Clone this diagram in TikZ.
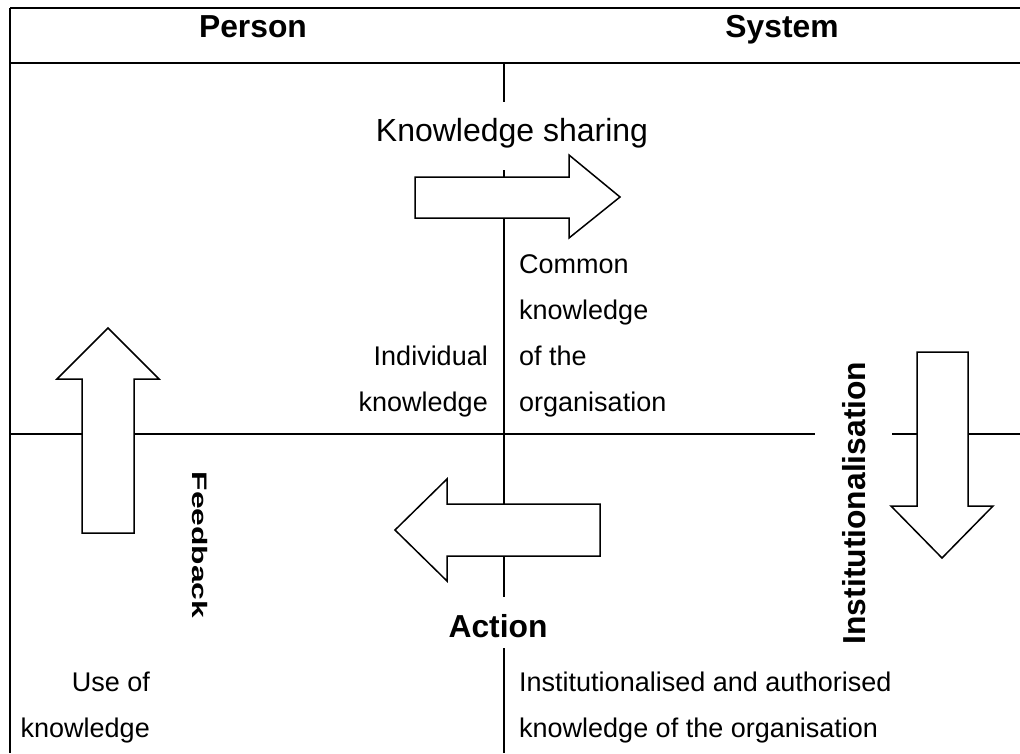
\documentclass[tikz,border=0pt]{standalone}
\usepackage{fontspec}
\setmainfont{Liberation Sans}

\begin{document}
\begin{tikzpicture}
        [x=1pt, y=-1pt,
        label/.style={inner sep=0pt, font=\fontsize{27}{46}\selectfont},
        heading/.style={inner sep=0pt, font=\fontsize{31.8}{37}\selectfont\bfseries},
        axis/.style={line width=2pt, black},
        frame/.style={line width=2.6pt, black},
        blockarrow/.style={draw, fill=white, line width=1.5pt, line join=miter}]

        \useasboundingbox (0,0) rectangle (1020,753);

        % header of the table
        \draw[frame] (1020,8) -- (10,8);
        \draw[frame] (10,63) -- (1020,63);
        \draw[axis] (10,8) -- (10,753);

        % the two axes, with gaps for the titles
        \draw[axis] (504,63) -- (504,102);
        \draw[axis] (504,170) -- (504,597);
        \draw[axis] (504,648) -- (504,753);
        \draw[axis] (10,434) -- (815,434);
        \draw[axis] (892,434) -- (1020,434);

        % titles
        \node[heading, anchor=base] (person) at (253,37) {Person};
        \node[heading, anchor=base] (system) at (782,37) {System};
        \node[inner sep=0pt, anchor=base, font=\fontsize{32}{38}\selectfont] (sharing) at (512,141) {Knowledge sharing};
        \node[heading, anchor=base] (action) at (498,637) {Action};
        \node[heading, rotate=-90, yscale=0.66] (feedback) at (200,545) {Feedback};
        \node[heading, rotate=90] (institution) at (854,503) {Institutionalisation};

        % quadrant texts (base = last line)
        \node[label, align=right, anchor=base east] (individual) at (488,411) {Individual\\knowledge};
        \node[label, align=left, anchor=base west] (common) at (519,411) {Common\\knowledge\\of the\\organisation};
        \node[label, align=right, anchor=base east] (use) at (150,737) {Use of\\knowledge};
        \node[label, align=left, anchor=base west] (authorised) at (519,737) {Institutionalised and authorised\\knowledge of the organisation};

        % block arrows
        \draw[blockarrow] (415,177) -- (569,177) -- (569,155) -- (620,197) -- (569,238) -- (569,218) -- (415,218) -- cycle;
        \draw[blockarrow] (917,352) -- (968,352) -- (968,506) -- (993,506) -- (942,558) -- (891,506) -- (917,506) -- cycle;
        \draw[blockarrow] (600,504) -- (447,504) -- (447,479) -- (395,530) -- (447,581) -- (447,556) -- (600,556) -- cycle;
        \draw[blockarrow] (82,533) -- (82,379) -- (57,379) -- (108,328) -- (159,379) -- (134,379) -- (134,533) -- cycle;

\end{tikzpicture}
\end{document}
